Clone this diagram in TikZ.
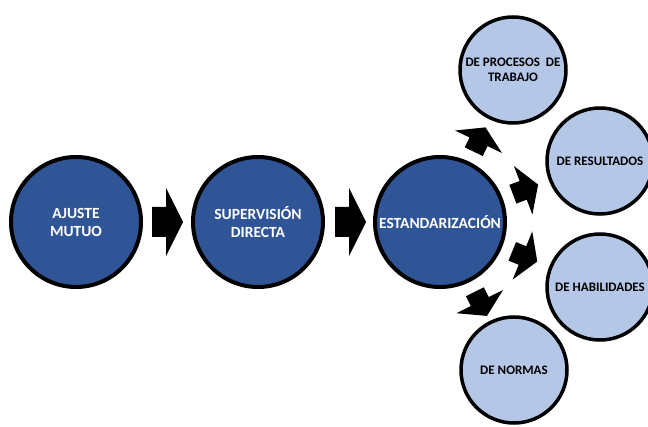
\documentclass[tikz,border=0pt]{standalone}
\usepackage{fontspec}
\setmainfont{Carlito}
\usetikzlibrary{calc}

\definecolor{darkblue}{HTML}{2F5597}
\definecolor{lightblue}{HTML}{B4C7E7}

% Block arrow pointing from node #1 towards node #2:
% #3 start distance, #4 shaft length, #5 head length,
% #6 shaft half-width, #7 head half-width
\newcommand\blockarrow[7]{%
  \fill[arrowfill] let \p1=($(#2)-(#1)$), \n1={atan2(\y1,\x1)},
      \n2={#3+#4}, \n3={#3+#4+#5} in
    ($(#1)+(\n1:#3)+(\n1+90:#6)$) --
    ($(#1)+(\n1:\n2)+(\n1+90:#6)$) --
    ($(#1)+(\n1:\n2)+(\n1+90:#7)$) --
    ($(#1)+(\n1:\n3)$) --
    ($(#1)+(\n1:\n2)+(\n1-90:#7)$) --
    ($(#1)+(\n1:\n2)+(\n1-90:#6)$) --
    ($(#1)+(\n1:#3)+(\n1-90:#6)$) -- cycle;
}

\tikzset{
  mainstage/.style={circle, draw=black, line width=4pt, fill=darkblue,
    minimum size=130pt, inner sep=0pt, text=white, align=center,
    font=\fontsize{15.5}{18}\selectfont\bfseries},
  substage/.style={circle, draw=black, line width=3.5pt, fill=lightblue,
    minimum size=106pt, inner sep=0pt, text=black, align=center,
    font=\fontsize{13}{15.5}\selectfont\bfseries},
  arrowfill/.style={fill=black},
}

\begin{document}
\begin{tikzpicture}[x=1pt, y=1pt]
  \useasboundingbox (0,0) rectangle (648,426);
  \clip (0,0) rectangle (648,426);

  % main sequence
  \node[mainstage] (A) at (76,204)  {AJUSTE\\MUTUO};
  \node[mainstage] (S) at (258,204) {SUPERVISIÓN\\DIRECTA};
  \node[mainstage] (E) at (440,204) {ESTANDARIZACIÓN};

  % kinds of standardization
  \node[substage] (P) at (513,356) {DE PROCESOS~~DE\\TRABAJO};
  \node[substage] (R) at (600,265) {DE RESULTADOS};
  \node[substage] (H) at (600,139) {DE HABILIDADES};
  \node[substage] (N) at (514,56)  {DE NORMAS};

  % arrows between the main stages
  \blockarrow{A}{S}{76}{14}{17}{15}{34}
  \blockarrow{S}{E}{77}{14}{17}{15}{34}

  % radial arrows out of the central stage
  \blockarrow{E}{P}{78}{11}{16}{10}{26}
  \blockarrow{E}{R}{78}{11}{16}{10}{26}
  \blockarrow{E}{H}{78}{11}{16}{10}{26}
  \blockarrow{E}{N}{78}{11}{16}{10}{26}
\end{tikzpicture}
\end{document}
